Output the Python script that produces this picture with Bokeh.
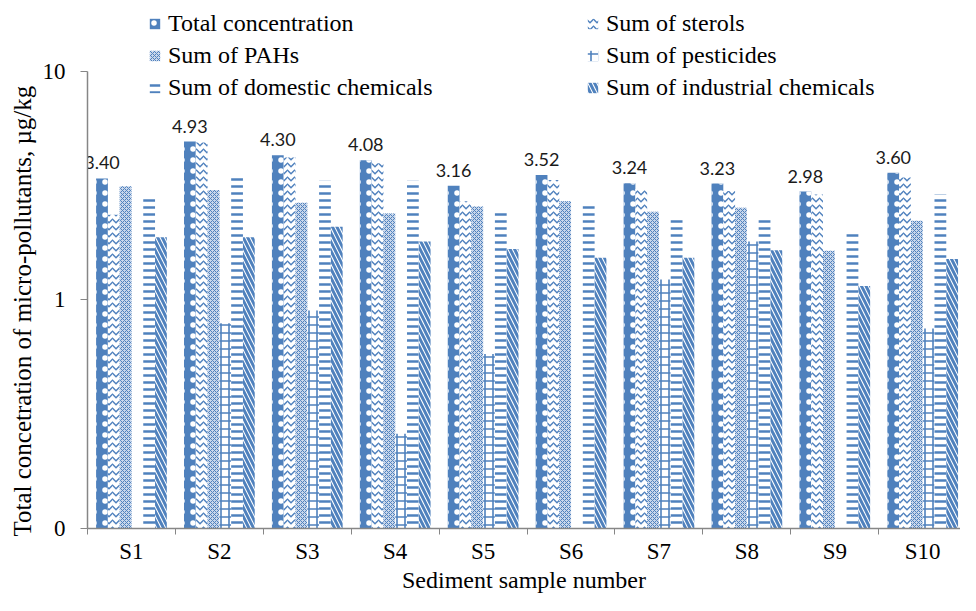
import numpy as np
from bokeh.plotting import figure
from bokeh.models import FixedTicker, Range1d, Legend, LegendItem, ColumnDataSource, Title
from bokeh.core.properties import value
from bokeh.embed import file_html
from bokeh.resources import INLINE

samples = ["S1", "S2", "S3", "S4", "S5", "S6", "S7", "S8", "S9", "S10"]
total = [3.40, 4.93, 4.30, 4.08, 3.16, 3.52, 3.24, 3.23, 2.98, 3.60]
sterols = [2.36, 4.88, 4.20, 3.96, 2.70, 3.35, 3.06, 3.00, 2.89, 3.43]
pahs = [3.14, 3.03, 2.66, 2.39, 2.56, 2.70, 2.43, 2.53, 1.64, 2.22]
pesticides = [None, 0.79, 0.90, 0.26, 0.58, None, 1.23, 1.80, None, 0.75]
domestic = [2.86, 3.55, 3.32, 3.32, 2.46, 2.66, 2.32, 2.29, 2.00, 2.89]
industrial = [1.88, 1.88, 2.09, 1.80, 1.67, 1.53, 1.53, 1.65, 1.15, 1.51]
series_names = ["Total concentration", "Sum of sterols", "Sum of PAHs",
                "Sum of pesticides", "Sum of domestic chemicals", "Sum of industrial chemicals"]
y_ticks = [0.1, 1, 10]
y_tick_labels = ["0", "1", "10"]

BLUE = "#4F81BD"
SERIF = "Liberation Serif"

W, H = 960, 595
LEFT, BOTTOM = 87, 63
frame_h = H - BOTTOM - 3
decade = (frame_h - 71) / 2.0
y_top = 10 ** (1 + 71 / decade)
x_end = 9.93

p = figure(width=W, height=H, output_backend="svg", toolbar_location=None,
           y_axis_type="log", x_range=Range1d(0, x_end), y_range=Range1d(0.1, y_top),
           min_border_left=LEFT, min_border_right=0, min_border_top=0, min_border_bottom=BOTTOM)
p.outline_line_color = None
p.xgrid.visible = False
p.ygrid.visible = False

n = len(samples)
centers = np.arange(n) + 0.5
bw = 12 / 89.5
all_series = [total, sterols, pahs, pesticides, domestic, industrial]
styles = [
    dict(fill_color=BLUE, hatch_pattern=".", hatch_color="white", hatch_scale=11, hatch_weight=1),
    dict(fill_color="white", hatch_pattern="v", hatch_color=BLUE, hatch_scale=7, hatch_weight=1.5),
    dict(fill_color="#C9D7EB", hatch_pattern="x", hatch_color=BLUE, hatch_scale=4, hatch_weight=1),
    dict(fill_color="white", hatch_pattern="+", hatch_color=BLUE, hatch_scale=8, hatch_weight=1.6),
    dict(fill_color="white", hatch_pattern="-", hatch_color=BLUE, hatch_scale=7, hatch_weight=2.5),
    dict(fill_color="white", hatch_pattern="\\", hatch_color=BLUE, hatch_scale=9, hatch_weight=3),
]
renderers = []
for k, (vals, st) in enumerate(zip(all_series, styles)):
    xs = centers + (k - 2.5) * bw
    tops = [np.nan if v is None else v for v in vals]
    src = ColumnDataSource(dict(x=xs, top=tops))
    r = p.vbar(x="x", top="top", bottom=0.1, width=bw, source=src, line_color=None, **st)
    renderers.append(r)

# data labels over total bars
lab_src = ColumnDataSource(dict(x=centers - 2.5 * bw, y=total, t=["%.2f" % v for v in total]))
p.text(x="x", y="y", text="t", source=lab_src, text_align="center", text_baseline="bottom",
       y_offset=-9, text_font=value("Lato"), text_font_size="18px", text_color="#1a1a1a")

# axes
xa = p.xaxis[0]
xa.ticker = FixedTicker(ticks=list(centers), minor_ticks=list(np.arange(n + 1)))
xa.major_label_overrides = {float(c): s for c, s in zip(centers, samples)}
xa.major_tick_line_color = None
xa.major_tick_out = 0
xa.major_tick_in = 0
xa.minor_tick_line_color = "#868686"
xa.minor_tick_out = 6
xa.minor_tick_in = 0
xa.axis_line_color = "#868686"
xa.axis_line_width = 1.5
xa.major_label_text_font = SERIF
xa.major_label_text_font_size = "23px"
xa.major_label_text_color = "black"
xa.major_label_standoff = 4
xa.axis_label = "Sediment sample number"
xa.axis_label_text_font = SERIF
xa.axis_label_text_font_size = "24px"
xa.axis_label_text_font_style = "normal"
xa.axis_label_text_color = "black"
xa.axis_label_standoff = 0

ya = p.yaxis[0]
ya.bounds = (0.1, 10)
ya.ticker = FixedTicker(ticks=y_ticks, minor_ticks=[])
ya.major_label_overrides = {t: l for t, l in zip(y_ticks, y_tick_labels)}
ya.major_tick_line_color = "#868686"
ya.major_tick_out = 7
ya.major_tick_in = 0
ya.minor_tick_line_color = None
ya.axis_line_color = "#868686"
ya.axis_line_width = 1.5
ya.major_label_text_font = SERIF
ya.major_label_text_font_size = "23px"
ya.major_label_text_color = "black"
ya.major_label_standoff = 15

ytitle = Title(text="Total concetration of micro-pollutants, \u00b5g/kg", align="left", offset=-8,
               standoff=8, text_font=SERIF, text_font_size="25px", text_font_style="normal",
               text_color="black")
p.add_layout(ytitle, "left")

order = [0, 2, 4, 1, 3, 5]
items = [LegendItem(label=series_names[i], renderers=[renderers[i]]) for i in order]
legend = Legend(items=items, nrows=3, location=(61, frame_h - 102), padding=0, margin=0, spacing=5,
                glyph_width=13, glyph_height=13, label_standoff=7, label_width=413,
                label_height=26, label_text_font=SERIF, label_text_font_size="24px",
                label_text_color="black", border_line_color=None, background_fill_alpha=0)
p.add_layout(legend, "center")

open("out.html", "w").write(file_html(p, INLINE))
